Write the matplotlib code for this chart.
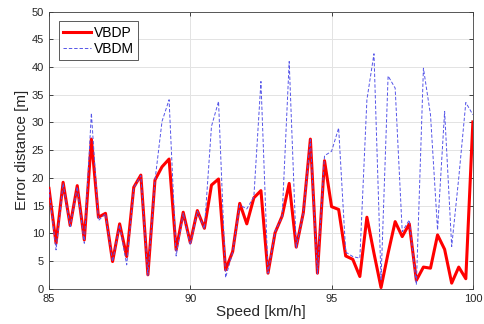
import numpy as np
import matplotlib
matplotlib.use("Agg")
import matplotlib.pyplot as plt

plt.rcParams['font.family'] = ['Liberation Sans', 'DejaVu Sans']

speed = np.arange(85.0, 100.0001, 0.25)

vbdp = [18.1, 8.2, 19.2, 11.4, 18.6, 8.8, 27.0, 12.9, 13.6, 4.9,
        11.7, 5.8, 18.3, 20.5, 2.5, 19.6, 22.0, 23.4, 7.0, 13.8,
        8.3, 14.1, 10.9, 18.7, 19.8, 3.4, 6.7, 15.4, 11.7, 16.4,
        17.7, 2.8, 10.1, 13.1, 19.0, 7.5, 13.7, 27.0, 2.8, 23.1,
        14.8, 14.3, 5.9, 5.3, 2.2, 12.9, 6.4, 0.2, 6.4, 12.1,
        9.4, 11.7, 1.5, 3.9, 3.7, 9.7, 7.1, 1.0, 3.9, 1.8,
        30.1]

vbdm = [18.0, 7.0, 19.0, 11.2, 18.4, 8.2, 31.7, 12.3, 13.5, 4.9,
        11.5, 4.3, 18.2, 20.4, 2.4, 19.5, 30.2, 34.1, 5.9, 13.6,
        7.9, 14.0, 10.8, 29.3, 33.8, 2.0, 6.6, 15.1, 14.4, 16.6,
        37.4, 2.8, 10.3, 13.0, 41.0, 7.4, 13.6, 26.9, 2.7, 24.0,
        24.8, 29.0, 6.6, 5.8, 5.5, 34.1, 42.4, 1.6, 38.4, 36.2,
        10.3, 12.4, 0.7, 39.8, 31.4, 10.6, 32.0, 7.6, 20.0, 33.6,
        31.4]

fig = plt.figure(figsize=(4.85, 3.24), dpi=100)
ax = fig.add_axes([0.101, 0.109, 0.874, 0.855])

ax.plot(speed, vbdp, color='#ff0000', lw=2.2, label='VBDP', zorder=3)
ax.plot(speed, vbdm, color='#5555e8', lw=0.7, ls=(0, (3.5, 2)), label='VBDM', zorder=4)

ax.set_xlim(85, 100)
ax.set_ylim(0, 50)
ax.set_xticks([85, 90, 95, 100])
ax.set_yticks(np.arange(0, 51, 5))
ax.grid(True, color='#e3e3e3', lw=0.7)
ax.set_axisbelow(True)
ax.tick_params(direction='in', labelsize=8, colors='#262626', length=3, width=0.6,
               top=True, right=True)
for s in ax.spines.values():
    s.set_color('#404040')
    s.set_linewidth(0.6)

ax.set_xlabel('Speed [km/h]', fontsize=11, color='#262626', labelpad=1)
ax.set_ylabel('Error distance [m]', fontsize=11, color='#262626', labelpad=2)

leg = ax.legend(loc='upper left', fontsize=10, fancybox=False, framealpha=1,
                edgecolor='#404040', borderpad=0.3, handlelength=2.0,
                handletextpad=0.25, labelspacing=0.15, borderaxespad=0.7)
leg.get_frame().set_linewidth(0.6)

fig.savefig('out.png', dpi=100)
